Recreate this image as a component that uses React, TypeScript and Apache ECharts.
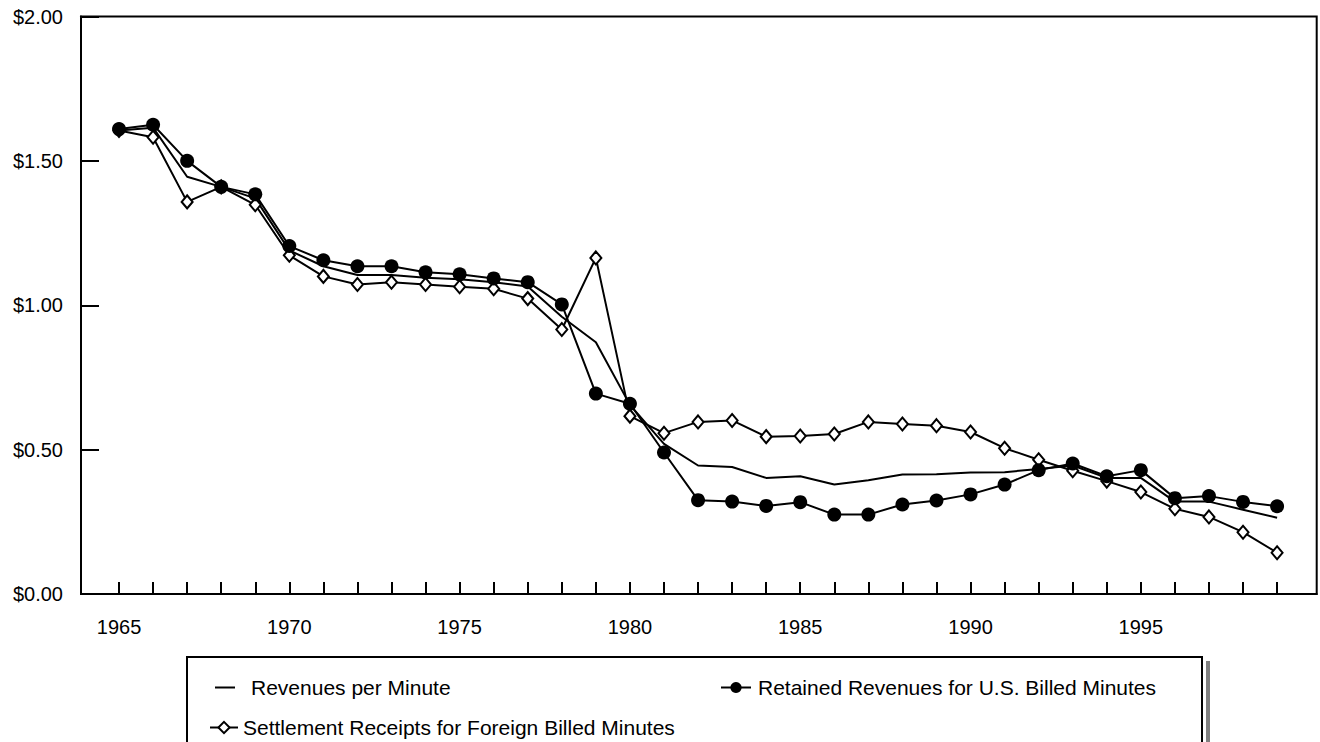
import React, { useEffect, useRef } from "react";
import * as echarts from "echarts";

const years = [
  1965, 1966, 1967, 1968, 1969, 1970, 1971, 1972, 1973, 1974, 1975, 1976,
  1977, 1978, 1979, 1980, 1981, 1982, 1983, 1984, 1985, 1986, 1987, 1988,
  1989, 1990, 1991, 1992, 1993, 1994, 1995, 1996, 1997, 1998, 1999,
];

const revenuesPerMinute = [
  1.605, 1.615, 1.445, 1.41, 1.37, 1.19, 1.135, 1.105, 1.105, 1.095, 1.09,
  1.08, 1.065, 0.96, 0.872, 0.655, 0.52, 0.445, 0.44, 0.402, 0.408, 0.379,
  0.394, 0.414, 0.415, 0.421, 0.422, 0.433, 0.445, 0.402, 0.402, 0.32, 0.32,
  0.292, 0.264,
];

const retainedRevenues = [
  1.61, 1.625, 1.5, 1.41, 1.384, 1.205, 1.156, 1.135, 1.135, 1.114, 1.107,
  1.093, 1.08, 1.003, 0.694, 0.659, 0.49, 0.325, 0.32, 0.305, 0.318, 0.275,
  0.275, 0.31, 0.324, 0.345, 0.379, 0.429, 0.452, 0.408, 0.429, 0.332, 0.339,
  0.319, 0.304,
];

const settlementReceipts = [
  1.605, 1.582, 1.358, 1.41, 1.348, 1.173, 1.1, 1.072, 1.08, 1.072, 1.064,
  1.057, 1.023, 0.916, 1.164, 0.616, 0.557, 0.596, 0.601, 0.545, 0.547, 0.554,
  0.596, 0.589, 0.583, 0.561, 0.505, 0.465, 0.427, 0.391, 0.353, 0.295, 0.267,
  0.214, 0.143,
];

const labelYears = [1965, 1970, 1975, 1980, 1985, 1990, 1995];

const seriesNames = [
  "Revenues per Minute",
  "Retained Revenues for U.S. Billed Minutes",
  "Settlement Receipts for Foreign Billed Minutes",
];

const FONT = "'Liberation Sans', Arial, Helvetica, sans-serif";

export default function App() {
  const ref = useRef<HTMLDivElement>(null);

  useEffect(() => {
    if (!ref.current) return;
    const chart = echarts.init(ref.current, undefined, { renderer: "svg" });
    const pair = (arr: number[]) => years.map((y, i) => [y, arr[i]]);

    const legendText = (padLeft: number) => ({
      color: "#000",
      fontFamily: FONT,
      fontSize: 21,
      padding: [0, 0, 0, padLeft],
    });

    chart.setOption({
      animation: false,
      backgroundColor: "#fff",
      grid: {
        left: 81,
        right: 3.3,
        top: 16.5,
        bottom: 148,
        show: true,
        borderColor: "#000",
        borderWidth: 2,
        backgroundColor: "transparent",
        containLabel: false,
      },
      xAxis: {
        type: "value",
        min: 1963.884,
        max: 2000.163,
        splitLine: { show: false },
        axisLine: { show: true, onZero: false, lineStyle: { color: "#000", width: 2 } },
        axisTick: {
          show: true,
          inside: true,
          length: 12,
          lineStyle: { color: "#000", width: 2 },
          customValues: years,
        },
        axisLabel: {
          show: true,
          color: "#000",
          fontFamily: FONT,
          fontSize: 20,
          margin: 23,
          customValues: labelYears,
          formatter: (v: number) => String(Math.round(v)),
        },
      },
      yAxis: {
        type: "value",
        min: 0,
        max: 2,
        interval: 0.5,
        splitLine: { show: false },
        axisLine: { show: true, lineStyle: { color: "#000", width: 2 } },
        axisTick: {
          show: true,
          inside: true,
          length: 18,
          lineStyle: { color: "#000", width: 2 },
        },
        axisLabel: {
          color: "#000",
          fontFamily: FONT,
          fontSize: 20,
          margin: 18,
          formatter: (v: number) => "$" + v.toFixed(2),
        },
      },
      legend: [
        {
          left: 210,
          top: 672,
          itemWidth: 20,
          itemHeight: 2,
          selectedMode: false,
          textStyle: legendText(11),
          data: [{ name: seriesNames[0], icon: "rect", itemStyle: { color: "#000" } }],
        },
        {
          left: 715,
          top: 672,
          itemWidth: 30,
          itemHeight: 14,
          selectedMode: false,
          textStyle: legendText(2),
          data: [seriesNames[1]],
        },
        {
          left: 204,
          top: 712,
          itemWidth: 28,
          itemHeight: 14,
          selectedMode: false,
          textStyle: legendText(0),
          data: [seriesNames[2]],
        },
      ],
      graphic: [
        {
          type: "rect",
          shape: { x: 187, y: 657, width: 1015, height: 120 },
          style: { fill: "none", stroke: "#000", lineWidth: 2 },
          z: 100,
        },
        {
          type: "rect",
          shape: { x: 1206, y: 661, width: 4, height: 100 },
          style: { fill: "#808080" },
          z: 100,
        },
      ],
      series: [
        {
          name: seriesNames[0],
          type: "line",
          data: pair(revenuesPerMinute),
          showSymbol: false,
          symbol: "none",
          lineStyle: { color: "#000", width: 2 },
          itemStyle: { color: "#000" },
          z: 2,
        },
        {
          name: seriesNames[2],
          type: "line",
          data: pair(settlementReceipts),
          symbol: "diamond",
          symbolSize: [11, 13],
          showSymbol: true,
          lineStyle: { color: "#000", width: 2 },
          itemStyle: { color: "#fff", borderColor: "#000", borderWidth: 2 },
          z: 3,
        },
        {
          name: seriesNames[1],
          type: "line",
          data: pair(retainedRevenues),
          symbol: "circle",
          symbolSize: 14,
          showSymbol: true,
          lineStyle: { color: "#000", width: 2 },
          itemStyle: { color: "#000", borderColor: "#000", borderWidth: 0 },
          z: 4,
        },
      ],
    });

    return () => chart.dispose();
  }, []);

  return (
    <div
      ref={ref}
      style={{ position: "fixed", left: 0, top: 0, width: 1320, height: 742, background: "#fff" }}
    />
  );
}
